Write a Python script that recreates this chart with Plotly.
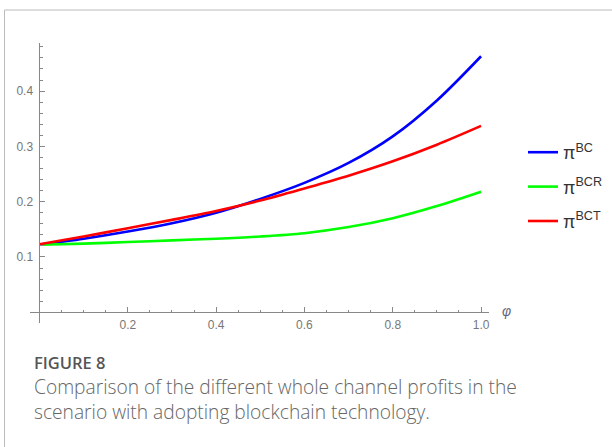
import plotly.graph_objects as go

# ---- data ----
phi = [0.0, 0.1, 0.2, 0.3, 0.4, 0.5, 0.6, 0.7, 0.8, 0.9, 1.0]
pi_BC = [0.122, 0.133, 0.146, 0.161, 0.180, 0.205, 0.234, 0.270, 0.318, 0.383, 0.463]
pi_BCR = [0.122, 0.124, 0.127, 0.130, 0.133, 0.137, 0.143, 0.154, 0.170, 0.192, 0.218]
pi_BCT = [0.123, 0.137, 0.152, 0.167, 0.183, 0.202, 0.224, 0.247, 0.273, 0.303, 0.337]
series_names = ["π<sup>BC</sup>", "π<sup>BCR</sup>", "π<sup>BCT</sup>"]
series_colors = ["#0000ff", "#00ff00", "#ff0000"]
x_ticks = [0.2, 0.4, 0.6, 0.8, 1.0]
x_ticktext = ["0.2", "0.4", "0.6", "0.8", "1.0"]
y_ticks = [0.1, 0.2, 0.3, 0.4]
y_ticktext = ["0.1", "0.2", "0.3", "0.4"]

W, H = 612, 447
ML, MR, MT, MB = 30, 123, 43, 124
PW, PH = W - ML - MR, H - MT - MB
XR = [-0.0215, 1.018]
YR = [-0.0195, 0.487]


def px_x(p):
    return (p - ML) / PW


def px_y(p):
    return (H - MB - p) / PH


fig = go.Figure()
for i, (ys, nm, col) in enumerate(zip([pi_BC, pi_BCR, pi_BCT], series_names, series_colors)):
    fig.add_trace(go.Scatter(x=phi, y=ys, mode="lines", name=nm,
                             line=dict(color=col, width=2.6, shape="spline", smoothing=0.9),
                             legendgroup=f"g{i}"))

tickfont = dict(family="Liberation Sans", size=12, color="#777777")
fig.update_layout(
    width=W, height=H,
    margin=dict(l=ML, r=MR, t=MT, b=MB, autoexpand=False),
    paper_bgcolor="white", plot_bgcolor="white",
    showlegend=True,
    legend=dict(x=px_x(523), y=px_y(134), xanchor="left", yanchor="top",
                font=dict(family="Liberation Sans", size=18, color="#333333"),
                tracegroupgap=8, itemwidth=30, bgcolor="rgba(0,0,0,0)"),
    xaxis=dict(range=XR, showgrid=False, zeroline=False, showline=True,
               linecolor="#888888", linewidth=1,
               anchor="free", position=(0 - YR[0]) / (YR[1] - YR[0]),
               tickvals=x_ticks, ticktext=x_ticktext, ticks="inside", ticklen=5,
               tickcolor="#888888", tickfont=tickfont, ticklabelstandoff=1,
               minor=dict(dtick=0.05, tick0=0, ticks="inside", ticklen=2.5, tickcolor="#888888")),
    yaxis=dict(range=YR, showgrid=False, zeroline=False, showline=True,
               linecolor="#888888", linewidth=1,
               anchor="free", position=(0 - XR[0]) / (XR[1] - XR[0]),
               tickvals=y_ticks, ticktext=y_ticktext, ticks="inside", ticklen=5,
               tickcolor="#888888", tickfont=tickfont, ticklabelstandoff=4,
               minor=dict(dtick=0.02, tick0=0, ticks="inside", ticklen=2.5, tickcolor="#888888")),
)

fig.add_annotation(text="<i>φ</i>", xref="paper", yref="paper", x=px_x(506), y=px_y(311),
                   xanchor="center", yanchor="middle", showarrow=False,
                   font=dict(family="Liberation Sans", size=14, color="#666677"))

# caption
fig.add_annotation(text="FIGURE 8", xref="paper", yref="paper", x=px_x(32), y=px_y(362),
                   xanchor="left", yanchor="middle", showarrow=False,
                   font=dict(family="Open Sans", size=16.5, color="#555555", weight=600))
fig.add_annotation(text="Comparison of the different whole channel profits in the",
                   xref="paper", yref="paper", x=px_x(32), y=px_y(386),
                   xanchor="left", yanchor="middle", showarrow=False,
                   font=dict(family="Open Sans", size=19.2, color="#666666", weight=300))
fig.add_annotation(text="scenario with adopting blockchain technology.",
                   xref="paper", yref="paper", x=px_x(32), y=px_y(411),
                   xanchor="left", yanchor="middle", showarrow=False,
                   font=dict(family="Open Sans", size=19.2, color="#666666", weight=300))

# outer frame
fig.add_shape(type="line", xref="paper", yref="paper", x0=px_x(4.5), x1=px_x(4.5),
              y0=px_y(10), y1=px_y(447), line=dict(color="#bbbbbb", width=1))
fig.add_shape(type="line", xref="paper", yref="paper", x0=px_x(4.5), x1=px_x(612),
              y0=px_y(10), y1=px_y(10), line=dict(color="#bbbbbb", width=1))

fig.write_html("out.html")
